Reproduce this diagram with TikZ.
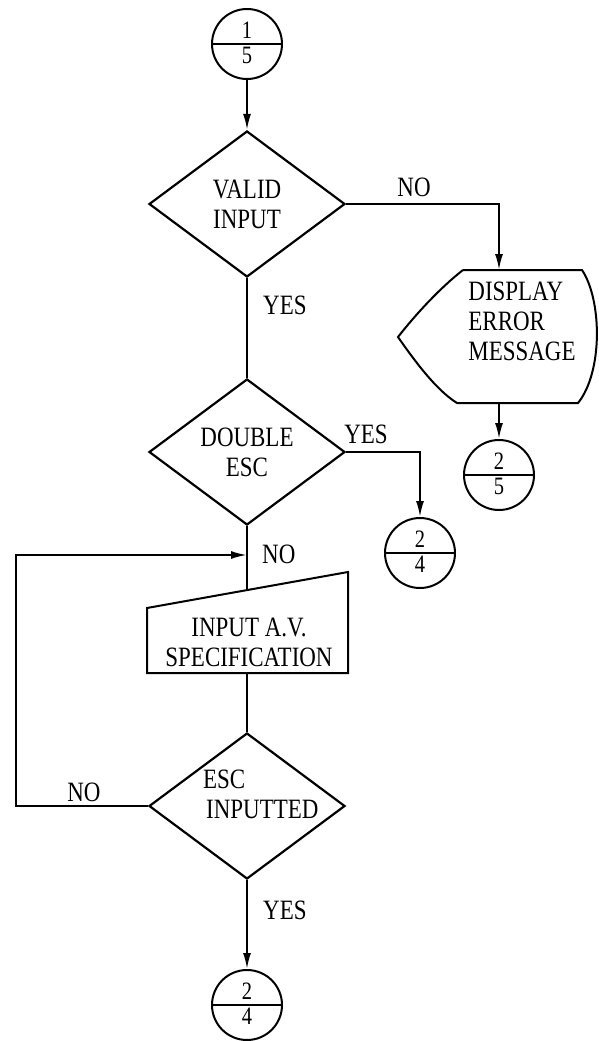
\documentclass[tikz,border=0pt]{standalone}
\usepackage{fontspec}
\setmainfont{Liberation Serif}[FakeStretch=0.82]
\usetikzlibrary{positioning,arrows.meta,shapes.geometric}
\tikzset{>={Latex[length=16pt,width=8pt]}}
\tikzset{
  decision/.style={diamond, draw, line width=2.2pt, minimum width=196pt, minimum height=146pt, inner sep=0pt, aspect=1.34},
  conn/.style={circle, draw, line width=2pt, minimum size=70pt, inner sep=0pt},
  digit/.style={font=\fontsize{25}{25}\selectfont, inner sep=0pt},
  flow/.style={line width=2pt},
  txt/.style={font=\fontsize{28}{30}\selectfont, align=center, inner sep=0pt},
}

\begin{document}
\begin{tikzpicture}[x=1pt,y=-1pt]
    \useasboundingbox (0,0) rectangle (599,1041);

    % Connectors
    \node[conn] (c1) at (247,44) {};
    \node[conn] (c25) at (499,475) {};
    \node[conn] (c24a) at (420,553) {};
    \node[conn] (c24b) at (247,1005) {};
    \foreach \c in {c1,c25,c24a,c24b}
        \draw[flow] (\c.west) -- (\c.east);
    \node[digit, anchor=south] (c1u) at ([yshift=5pt]c1.center) {1};
    \node[digit, anchor=north] (c1l) at ([yshift=-3pt]c1.center) {5};
    \node[digit, anchor=south] (c25u) at ([yshift=5pt]c25.center) {2};
    \node[digit, anchor=north] (c25l) at ([yshift=-3pt]c25.center) {5};
    \node[digit, anchor=south] (c24au) at ([yshift=5pt]c24a.center) {2};
    \node[digit, anchor=north] (c24al) at ([yshift=-3pt]c24a.center) {4};
    \node[digit, anchor=south] (c24bu) at ([yshift=5pt]c24b.center) {2};
    \node[digit, anchor=north] (c24bl) at ([yshift=-3pt]c24b.center) {4};

    % Decisions
    \node[decision, txt] (valid) at (247,204) {VALID\\INPUT};
    \node[decision, txt] (double) at (247,452) {DOUBLE\\ESC};
    \node[decision] (esc) at (247,806) {};
    \node[txt, align=left, anchor=west] (esctxt) at (203,794) {ESC\\\hspace{3pt}INPUTTED};

    % Display error message
    \draw[flow] (463,270) -- (582,270) .. controls (602,300) and (603,372) .. (578,403)
        -- (457,403) .. controls (436,390) and (414,360) .. (398,337)
        .. controls (416,314) and (440,288) .. (463,270);
    \node[txt, align=left] (disptxt) at (522,321) {DISPLAY\\ERROR\\MESSAGE};
    \coordinate (disptop) at (499,270);
    \coordinate (dispbot) at (499,403);

    % Manual input
    \draw[flow] (147,608) -- (348,572) -- (348,673) -- (147,673) -- cycle;
    \node[txt] (avstxt) at (249,642) {INPUT A.V.\\SPECIFICATION};
    \coordinate (avstop) at (247,590);
    \coordinate (avsbot) at (247,673);

    % Loop back
    \coordinate (loopcorner) at (16,806);
    \coordinate (join) at (247,555);

    % Flow lines
    \draw[flow,->] (c1.south) -- (valid.north);
    \draw[flow,->] (valid.east) -| (disptop);
    \draw[flow,->] (dispbot) -- (c25.north);
    \draw[flow] (valid.south) -- (double.north);
    \draw[flow,->] (double.east) -| (c24a.north);
    \draw[flow] (double.south) -- (avstop);
    \draw[flow] (avsbot) -- (esc.north);
    \draw[flow,->] (esc.west) -- (loopcorner) |- (join);
    \draw[flow,->] (esc.south) -- (c24b.north);

    % Branch labels
    \node[txt] (novalid) at (414,187) {NO};
    \node[txt, anchor=west] (yesvalid) at (263,305) {YES};
    \node[txt] (yesdouble) at (366,434) {YES};
    \node[txt, anchor=west] (nodouble) at (262,554) {NO};
    \node[txt] (noesc) at (84,792) {NO};
    \node[txt, anchor=west] (yesesc) at (263,910) {YES};
\end{tikzpicture}
\end{document}
